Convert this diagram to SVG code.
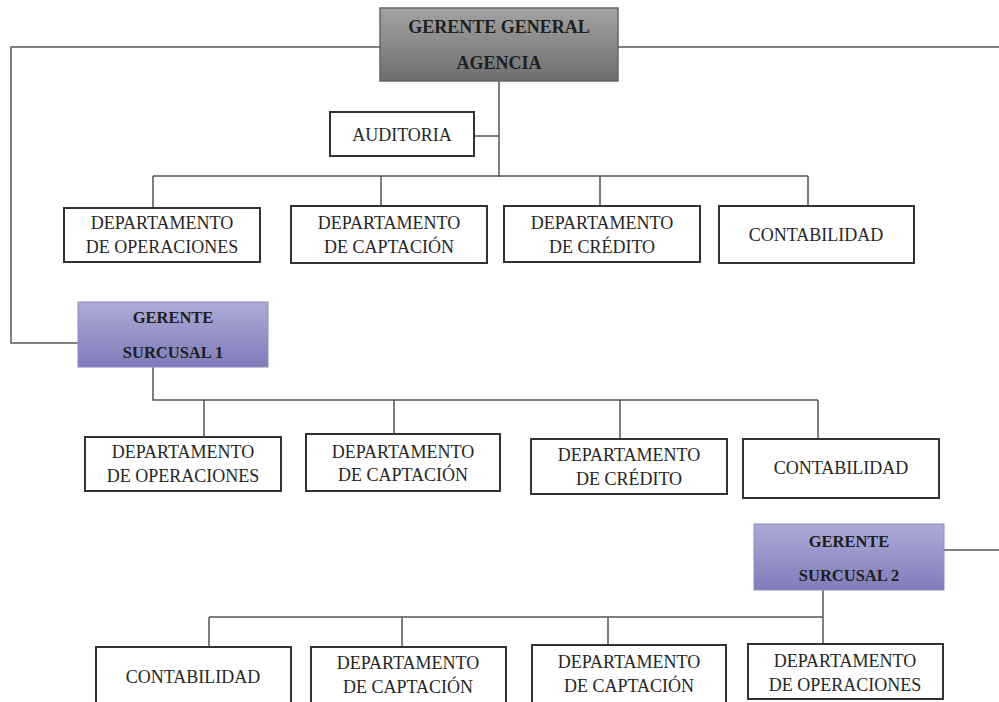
<svg xmlns="http://www.w3.org/2000/svg" width="999" height="702" viewBox="0 0 999 702">
<defs>
<linearGradient id="gGray" x1="0" y1="0" x2="0" y2="1">
<stop offset="0" stop-color="#a3a3a3"/>
<stop offset="1" stop-color="#6e6e6e"/>
</linearGradient>
<linearGradient id="gPurple" x1="0" y1="0" x2="0" y2="1">
<stop offset="0" stop-color="#adabd8"/>
<stop offset="1" stop-color="#7f7cba"/>
</linearGradient>
<style>
.box{fill:#fff;stroke:#333;stroke-width:2}
.gm{fill:url(#gGray);stroke:#666;stroke-width:1.5}
.gs{fill:url(#gPurple);stroke:#8e8cc0;stroke-width:1}
.t{font-family:"Liberation Serif",serif;font-size:18px;fill:#262626;text-anchor:middle}
.b{font-family:"Liberation Serif",serif;font-weight:bold;fill:#1e1e1e;text-anchor:middle}
.ln{fill:none;stroke:#555;stroke-width:1.5}
</style>
</defs>
<rect width="999" height="702" fill="#fff"/>
<g id="connectors" class="ln">
<path d="M380,47 H11 V343 H78"/>
<path d="M618,47 H999"/>
<path d="M499,81 V177"/>
<path d="M474,136 H499"/>
<path d="M153,176 H808 M153,176 V208 M381,176 V206 M600,176 V206 M808,176 V206"/>
<path d="M153,367 V400 H818 M204,400 V437 M394,400 V433 M620,400 V439 M818,400 V439"/>
<path d="M944,550 H999"/>
<path d="M823,590 V617 H209 M209,617 V647 M402,617 V647 M608,617 V645 M823,617 V644"/>
</g>
<g id="gerente-general">
<rect class="gm" x="380" y="8" width="238" height="73"/>
<text class="b" x="499" y="33" font-size="18">GERENTE GENERAL</text>
<text class="b" x="499" y="69" font-size="18">AGENCIA</text>
</g>
<g id="auditoria">
<rect class="box" x="330" y="112" width="144" height="44"/>
<text class="t" x="402" y="141">AUDITORIA</text>
</g>
<g id="r1-operaciones">
<rect class="box" x="64" y="208" width="196" height="54"/>
<text class="t" x="162" y="229">DEPARTAMENTO</text>
<text class="t" x="162" y="253">DE OPERACIONES</text>
</g>
<g id="r1-captacion">
<rect class="box" x="291" y="206" width="196" height="57"/>
<text class="t" x="389" y="229">DEPARTAMENTO</text>
<text class="t" x="389" y="253">DE CAPTACIÓN</text>
</g>
<g id="r1-credito">
<rect class="box" x="504" y="206" width="196" height="56"/>
<text class="t" x="602" y="229">DEPARTAMENTO</text>
<text class="t" x="602" y="253">DE CRÉDITO</text>
</g>
<g id="r1-contabilidad">
<rect class="box" x="719" y="206" width="195" height="57"/>
<text class="t" x="816" y="241">CONTABILIDAD</text>
</g>
<g id="gerente-sucursal-1">
<rect class="gs" x="78" y="302" width="190" height="65"/>
<text class="b" x="173" y="323" font-size="16.5">GERENTE</text>
<text class="b" x="173" y="358" font-size="16.5">SURCUSAL 1</text>
</g>
<g id="r2-operaciones">
<rect class="box" x="85" y="437" width="196" height="54"/>
<text class="t" x="183" y="458">DEPARTAMENTO</text>
<text class="t" x="183" y="482">DE OPERACIONES</text>
</g>
<g id="r2-captacion">
<rect class="box" x="306" y="434" width="194" height="57"/>
<text class="t" x="403" y="458">DEPARTAMENTO</text>
<text class="t" x="403" y="481">DE CAPTACIÓN</text>
</g>
<g id="r2-credito">
<rect class="box" x="531" y="439" width="196" height="55"/>
<text class="t" x="629" y="461">DEPARTAMENTO</text>
<text class="t" x="629" y="485">DE CRÉDITO</text>
</g>
<g id="r2-contabilidad">
<rect class="box" x="743" y="439" width="196" height="59"/>
<text class="t" x="841" y="474">CONTABILIDAD</text>
</g>
<g id="gerente-sucursal-2">
<rect class="gs" x="754" y="524" width="190" height="66"/>
<text class="b" x="849" y="547" font-size="16.5">GERENTE</text>
<text class="b" x="849" y="581" font-size="16.5">SURCUSAL 2</text>
</g>
<g id="r3-contabilidad">
<rect class="box" x="96" y="647" width="195" height="62"/>
<text class="t" x="193" y="683">CONTABILIDAD</text>
</g>
<g id="r3-captacion-1">
<rect class="box" x="311" y="647" width="195" height="62"/>
<text class="t" x="408" y="669">DEPARTAMENTO</text>
<text class="t" x="408" y="693">DE CAPTACIÓN</text>
</g>
<g id="r3-captacion-2">
<rect class="box" x="532" y="645" width="194" height="62"/>
<text class="t" x="629" y="668">DEPARTAMENTO</text>
<text class="t" x="629" y="692">DE CAPTACIÓN</text>
</g>
<g id="r3-operaciones">
<rect class="box" x="748" y="644" width="195" height="55"/>
<text class="t" x="845" y="667">DEPARTAMENTO</text>
<text class="t" x="845" y="691">DE OPERACIONES</text>
</g>
</svg>
